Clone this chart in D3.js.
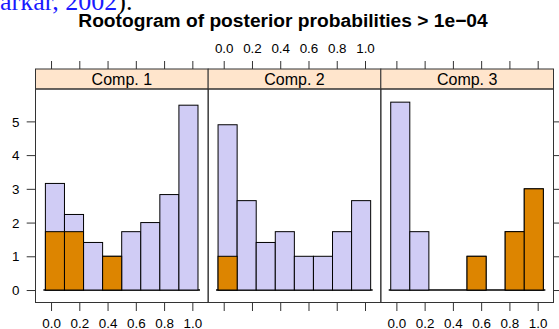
<!DOCTYPE html>
<html>
<head>
<meta charset="utf-8">
<script src="https://cdn.jsdelivr.net/npm/d3@7"></script>
<style>
  html, body { margin: 0; padding: 0; background: #fff; }
  svg { display: block; }
  text { font-family: "Liberation Sans", Arial, Helvetica, sans-serif; }
</style>
</head>
<body>
<svg id="chart" width="559" height="329"></svg>
<script>
// Histogram bin edges (posterior probability)
const binEdges = [-0.04, 0.095, 0.23, 0.365, 0.5, 0.635, 0.77, 0.905, 1.04];
// Panel names
const components = ["Comp. 1", "Comp. 2", "Comp. 3"];
// Square-root counts, all observations with posterior > 1e-04
const comp1All = [3.16, 2.24, 1.41, 1.0, 1.73, 2.0, 2.83, 5.48];
const comp2All = [4.90, 2.65, 1.41, 1.73, 1.0, 1.0, 1.73, 2.65];
const comp3All = [5.57, 1.73, 0, 0, 1.0, 0, 1.73, 3.0];
// Square-root counts, observations assigned to the component
const comp1Own = [1.73, 1.73, 0, 1.0, 0, 0, 0, 0];
const comp2Own = [1.0, 0, 0, 0, 0, 0, 0, 0];
const comp3Own = [0, 0, 0, 0, 1.0, 0, 1.73, 3.0];
// Axis ticks
const xTicks = [0, 0.2, 0.4, 0.6, 0.8, 1.0];
const yTicks = [0, 1, 2, 3, 4, 5];
const titleText = "Rootogram of posterior probabilities > 1e\u221204";

const allSeries = [comp1All, comp2All, comp3All];
const ownSeries = [comp1Own, comp2Own, comp3Own];

const svg = d3.select("#chart");
const frame = "#333333";
const fillAll = "#D0CCF5";
const fillOwn = "#DD8500";
const tickFont = "13.4px";

// citation text running off the top of the page above the figure
const cite = svg.append("text")
  .attr("x", -14.5).attr("y", 9.5)
  .style("font-family", "'Liberation Serif', 'Times New Roman', serif")
  .style("font-size", "26px");
cite.append("tspan").attr("fill", "#1a1aff").text("Sarkar, 2002");
cite.append("tspan").attr("fill", "#000").text(").");

// layout
const panelLeft = 35.5, panelRight = 553.5, panelTop = 89, panelBottom = 302.5;
const stripTop = 69;
const panelW = (panelRight - panelLeft) / components.length;

const y = d3.scaleLinear().domain([-0.37, 5.96]).range([panelBottom, panelTop]);

svg.append("text")
  .attr("x", 283).attr("y", 27.3)
  .attr("text-anchor", "middle")
  .style("font-size", "19.2px").style("font-weight", "bold")
  .text(titleText);

function styleAxis(a) {
  a.select(".domain").remove();
  a.selectAll("line").attr("stroke", frame);
  a.selectAll("text").style("font-size", tickFont).attr("fill", "#000")
    .style("font-family", "'Liberation Sans', Arial, sans-serif");
}

components.forEach((name, i) => {
  const x0 = panelLeft + i * panelW;
  const x = d3.scaleLinear().domain([-0.11, 1.112]).range([x0, x0 + panelW]);
  const g = svg.append("g");

  const bins = binEdges.slice(0, -1).map((b, k) => ({
    x0: b, x1: binEdges[k + 1], all: allSeries[i][k], own: ownSeries[i][k]
  }));

  // baseline at zero
  g.append("line")
    .attr("x1", x(binEdges[0]) - 2).attr("x2", x(binEdges[binEdges.length - 1]) + 2)
    .attr("y1", y(0)).attr("y2", y(0))
    .attr("stroke", "#000").attr("stroke-width", 1.5);

  g.selectAll("rect.all").data(bins.filter(d => d.all > 0)).join("rect")
    .attr("class", "all")
    .attr("x", d => x(d.x0)).attr("width", d => x(d.x1) - x(d.x0))
    .attr("y", d => y(d.all)).attr("height", d => y(0) - y(d.all))
    .attr("fill", fillAll).attr("stroke", "#000").attr("stroke-width", 1);

  g.selectAll("rect.own").data(bins.filter(d => d.own > 0)).join("rect")
    .attr("class", "own")
    .attr("x", d => x(d.x0)).attr("width", d => x(d.x1) - x(d.x0))
    .attr("y", d => y(d.own)).attr("height", d => y(0) - y(d.own))
    .attr("fill", fillOwn).attr("stroke", "#000").attr("stroke-width", 1);

  // strip
  g.append("rect")
    .attr("x", x0).attr("y", stripTop).attr("width", panelW).attr("height", panelTop - stripTop)
    .attr("fill", "#FFE5CC").attr("stroke", frame).attr("stroke-width", 1);
  g.append("text")
    .attr("x", x0 + panelW / 2).attr("y", 84.5)
    .attr("text-anchor", "middle").style("font-size", "16px")
    .text(name);

  // panel frame
  g.append("rect")
    .attr("x", x0).attr("y", panelTop).attr("width", panelW).attr("height", panelBottom - panelTop)
    .attr("fill", "none").attr("stroke", frame).attr("stroke-width", 1);

  // x ticks above the strip and below the panel, labels alternating
  const topAxis = d3.axisTop(x).tickValues(xTicks).tickSizeOuter(0).tickSizeInner(8)
    .tickFormat(i === 1 ? d3.format(".1f") : () => "");
  const ta = svg.append("g").attr("transform", `translate(0,${stripTop})`).call(topAxis);
  const botAxis = d3.axisBottom(x).tickValues(xTicks).tickSizeOuter(0).tickSizeInner(8.5)
    .tickFormat(i !== 1 ? d3.format(".1f") : () => "");
  const ba = svg.append("g").attr("transform", `translate(0,${panelBottom})`).call(botAxis);
  styleAxis(ta);
  styleAxis(ba);
  ta.selectAll("text").attr("y", -15.7).attr("dy", 0);
  ba.selectAll("text").attr("y", 25).attr("dy", 0);
});

// y axis on the left (labelled) and right (ticks only)
const la = svg.append("g").attr("transform", `translate(${panelLeft},0)`)
  .call(d3.axisLeft(y).tickValues(yTicks).tickSizeOuter(0).tickSizeInner(8.8).tickFormat(d3.format("d")));
const ra = svg.append("g").attr("transform", `translate(${panelRight},0)`)
  .call(d3.axisRight(y).tickValues(yTicks).tickSizeOuter(0).tickSizeInner(8.8).tickFormat(() => ""));
styleAxis(la);
styleAxis(ra);
la.selectAll("text").attr("x", -16).attr("dy", "0.35em");
</script>
</body>
</html>
